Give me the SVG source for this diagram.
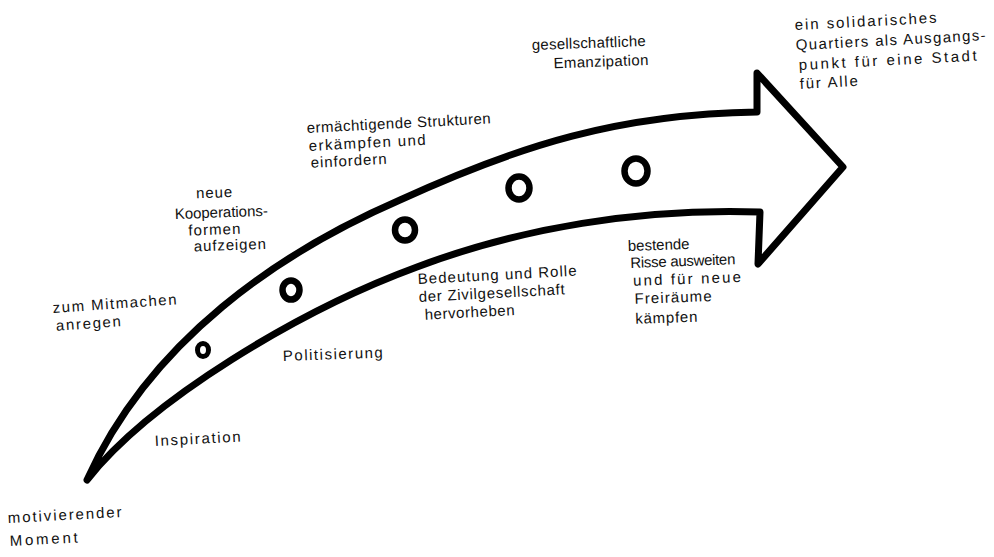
<svg xmlns="http://www.w3.org/2000/svg" width="994" height="557" viewBox="0 0 994 557">
<style>
.lbl{font-family:"Liberation Sans","DejaVu Sans",sans-serif;font-size:15px;fill:#111;}
.ring{fill:none;stroke:#000;stroke-width:6.5;}
.arrow{fill:none;stroke:#000;stroke-width:7;stroke-linejoin:round;stroke-linecap:round;}
</style>
<rect width="994" height="557" fill="#fff"/>
<g id="connectors">
<path id="arrow" class="arrow" d="M87,480 C150,340 280,252 400,200 C520,145 620,114 757,112 L757,73 L843,167 L758,264 L760,212 C640,208 520,228 417,267 C300,310 150,400 87,480 Z"/>
</g>
<g id="ring1"><ellipse class="ring" style="stroke-width:5" cx="203" cy="350" rx="5.5" ry="6.5"/></g>
<g id="ring2"><ellipse class="ring" cx="291" cy="290" rx="8.5" ry="9.5"/></g>
<g id="ring3"><ellipse class="ring" cx="405" cy="230" rx="10" ry="10.5"/></g>
<g id="ring4"><ellipse class="ring" cx="519" cy="188" rx="10.5" ry="11.5"/></g>
<g id="ring5"><ellipse class="ring" cx="636" cy="171" rx="11.5" ry="12.5"/></g>
<g id="goal" transform="rotate(-3 797 30)">
<text class="lbl" x="795" y="30" textLength="142">ein   solidarisches</text>
<text class="lbl" x="795" y="50" textLength="190">Quartiers als Ausgangs-</text>
<text class="lbl" x="797" y="70" textLength="178">punkt für eine Stadt</text>
<text class="lbl" x="797" y="89" textLength="58">für Alle</text>
</g>
<g id="emanzipation" transform="rotate(-2 532 50)">
<text class="lbl" x="532" y="50" textLength="114">gesellschaftliche</text>
<text class="lbl" x="553" y="69" textLength="95">Emanzipation</text>
</g>
<g id="strukturen" transform="rotate(-3 307 132)">
<text class="lbl" x="307" y="133" textLength="184">ermächtigende Strukturen</text>
<text class="lbl" x="308" y="151" textLength="117">erkämpfen und</text>
<text class="lbl" x="309" y="168" textLength="76">einfordern</text>
</g>
<g id="kooperation" transform="rotate(-2 176 220)">
<text class="lbl" x="197" y="199" textLength="36">neue</text>
<text class="lbl" x="175" y="219" textLength="93">Kooperations-</text>
<text class="lbl" x="188" y="236" textLength="52">formen</text>
<text class="lbl" x="193" y="252" textLength="72">aufzeigen</text>
</g>
<g id="mitmachen" transform="rotate(-4 53 312)">
<text class="lbl" x="53" y="313" textLength="124">zum Mitmachen</text>
<text class="lbl" x="55" y="331" textLength="65">anregen</text>
</g>
<g id="politisierung"><text class="lbl" x="283" y="361" textLength="100" transform="rotate(-2 283 361)">Politisierung</text></g>
<g id="inspiration"><text class="lbl" x="155" y="446" textLength="86" transform="rotate(-3 155 446)">Inspiration</text></g>
<g id="start">
<text class="lbl" x="8" y="523" textLength="114" transform="rotate(-3 8 523)">motivierender</text>
<text class="lbl" x="10" y="546" textLength="68" transform="rotate(-3 10 546)">Moment</text>
</g>
<g id="bedeutung" transform="rotate(-3 418 283)">
<text class="lbl" x="418" y="284" textLength="159">Bedeutung und Rolle</text>
<text class="lbl" x="418" y="302" textLength="146">der Zivilgesellschaft</text>
<text class="lbl" x="423" y="320" textLength="90">hervorheben</text>
</g>
<g id="risse" transform="rotate(-2 628 252)">
<text class="lbl" x="628" y="251">bestende</text>
<text class="lbl" x="630" y="268" textLength="105">Risse ausweiten</text>
<text class="lbl" x="632" y="286" textLength="108">und für neue</text>
<text class="lbl" x="633" y="304" textLength="77">Freiräume</text>
<text class="lbl" x="633" y="324" textLength="62">kämpfen</text>
</g>
</svg>
